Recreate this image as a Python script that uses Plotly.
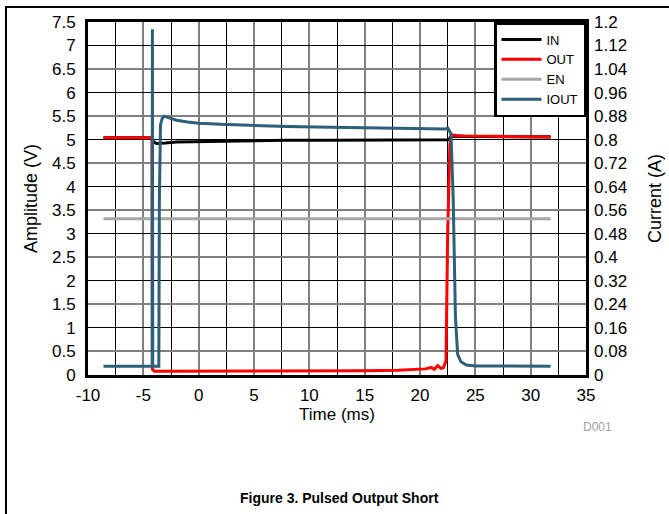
import plotly.graph_objects as go

# ---------------- data ----------------
x_ticks = [-10, -5, 0, 5, 10, 15, 20, 25, 30, 35]
x_minor = [-7.5, -2.5, 2.5, 7.5, 12.5, 17.5, 22.5, 27.5, 32.5]
y_ticks = [0, 0.5, 1, 1.5, 2, 2.5, 3, 3.5, 4, 4.5, 5, 5.5, 6, 6.5, 7, 7.5]
y_tick_text = ["0", "0.5", "1", "1.5", "2", "2.5", "3", "3.5", "4", "4.5", "5",
               "5.5", "6", "6.5", "7", "7.5"]
y_int = [0, 1, 2, 3, 4, 5, 6, 7]
y_half = [0.5, 1.5, 2.5, 3.5, 4.5, 5.5, 6.5, 7.5]
i_ticks = [0, 0.08, 0.16, 0.24, 0.32, 0.4, 0.48, 0.56, 0.64, 0.72, 0.8, 0.88,
           0.96, 1.04, 1.12, 1.2]
i_tick_text = ["0", "0.08", "0.16", "0.24", "0.32", "0.4", "0.48", "0.56", "0.64",
               "0.72", "0.8", "0.88", "0.96", "1.04", "1.12", "1.2"]

in_t = [-8.6, -4.3, -4.2, -4.0, -3.8, -3.5, -3.0, -2.0, 0, 2, 5, 8, 12, 16, 20,
        22.4, 22.6, 22.8, 23.0, 25, 31.8]
in_v = [5.04, 5.04, 5.0, 4.94, 4.92, 4.92, 4.93, 4.95, 4.96, 4.97, 4.98, 4.985,
        4.99, 4.99, 4.99, 4.99, 5.0, 5.07, 5.07, 5.07, 5.06]

out_t = [-8.6, -5, -4.22, -4.2, -4.17, -4.0, -3.0, 0, 5, 10, 15, 18, 19, 20, 20.5,
         21, 21.3, 21.6, 21.9, 22.1, 22.35, 22.5, 22.7, 22.85, 23.0, 23.3, 24, 27, 31.8]
out_v = [5.04, 5.04, 5.04, 2.5, 0.12, 0.08, 0.08, 0.08, 0.08, 0.08, 0.09, 0.1,
         0.11, 0.12, 0.13, 0.16, 0.12, 0.2, 0.14, 0.15, 0.3, 3.0, 4.9, 5.08, 5.1,
         5.09, 5.08, 5.07, 5.05]

en_t = [-8.6, 0, 10, 20, 31.8]
en_v = [3.32, 3.32, 3.32, 3.32, 3.32]

iout_t = [-8.6, -4.4, -4.2, -4.18, -4.15, -4.05, -3.6, -3.55, -3.45, -3.3, -3.1,
          -2.8, -2.0, -1.0, 0, 2, 5, 8, 12, 16, 20, 22.0, 22.3, 22.5, 22.8, 23.0,
          23.2, 23.4, 23.7, 24.2, 25, 31.8]
iout_v = [0.03, 0.03, 0.03, 1.175, 0.032, 0.03, 0.03, 0.6, 0.85, 0.872, 0.88,
          0.876, 0.866, 0.86, 0.856, 0.852, 0.848, 0.845, 0.842, 0.84, 0.838,
          0.837, 0.836, 0.84, 0.82, 0.6, 0.2, 0.07, 0.045, 0.034, 0.031, 0.03]

# ---------------- figure ----------------
FONT = "Liberation Sans, Arial, sans-serif"
fig = go.Figure()
fig.add_trace(go.Scatter(x=in_t, y=in_v, name="IN", mode="lines",
                         line=dict(color="#000000", width=3)))
fig.add_trace(go.Scatter(x=out_t, y=out_v, name="OUT", mode="lines",
                         line=dict(color="#ff0000", width=3)))
fig.add_trace(go.Scatter(x=en_t, y=en_v, name="EN", mode="lines",
                         line=dict(color="#a6a6a6", width=3)))
fig.add_trace(go.Scatter(x=iout_t, y=iout_v, name="IOUT", mode="lines",
                         line=dict(color="#2c5f78", width=3), yaxis="y2"))
# grid-only helper axis
fig.add_trace(go.Scatter(x=[None], y=[None], yaxis="y3", showlegend=False,
                         hoverinfo="skip"))

fig.update_layout(
    width=669, height=514,
    margin=dict(l=88, r=83, t=22, b=139, autoexpand=False),
    paper_bgcolor="white", plot_bgcolor="white",
    font=dict(family=FONT, size=17, color="black"),
    showlegend=True,
    legend=dict(x=1, xanchor="right", y=1, yanchor="top",
                bgcolor="white", bordercolor="black", borderwidth=2.5,
                font=dict(size=13), tracegroupgap=0, itemwidth=40),
    xaxis=dict(range=[-10, 35], tickmode="array", tickvals=x_ticks,
               ticktext=[str(v) for v in x_ticks], ticks="", ticklabelstandoff=3,
               showline=True, linecolor="black", linewidth=3, mirror=True,
               showgrid=True, gridcolor="#808080", gridwidth=1.5, zeroline=False,
               automargin=False,
               minor=dict(tickmode="array", tickvals=x_minor, showgrid=True,
                          gridcolor="#000000", gridwidth=1, ticks=""),
               title=dict(text="Time (ms)", standoff=2, font=dict(size=17))),
    yaxis=dict(range=[0, 7.5], tickmode="array", tickvals=y_ticks,
               ticktext=y_tick_text, ticks="", ticklabelstandoff=6,
               showline=True, linecolor="black", linewidth=3, mirror=True,
               showgrid=False, zeroline=False, automargin=False,
               title=dict(text="Amplitude (V)", standoff=10, font=dict(size=18))),
    yaxis2=dict(range=[0, 1.2], overlaying="y", side="right", tickmode="array",
                tickvals=i_ticks, ticktext=i_tick_text, ticks="",
                ticklabelstandoff=7, showgrid=False, zeroline=False,
                showline=False, automargin=False,
                title=dict(text="Current (A)", standoff=22, font=dict(size=18))),
    yaxis3=dict(range=[0, 7.5], overlaying="y", tickmode="array", tickvals=y_int,
                showticklabels=False, ticks="", showgrid=True, automargin=False,
                gridcolor="#000000", gridwidth=1, zeroline=False, showline=False,
                minor=dict(tickmode="array", tickvals=y_half, showgrid=True,
                           gridcolor="#808080", gridwidth=1.5, ticks="")),
)

# document frame lines (top and left edges of the page box)
fig.add_shape(type="line", xref="paper", yref="paper", x0=-0.1647, x1=1.2,
              y0=1.0425, y1=1.0425, line=dict(color="black", width=2), layer="above")
fig.add_shape(type="line", xref="paper", yref="paper", x0=-0.1647, x1=-0.1647,
              y0=1.0425, y1=-0.45, line=dict(color="black", width=2), layer="above")

fig.add_annotation(text="D001", xref="paper", yref="paper", x=1.024, y=-0.147,
                   xanchor="center", yanchor="middle",
                   showarrow=False, font=dict(size=12, color="#a0a0a0"))
fig.add_annotation(text="<b>Figure 3. Pulsed Output Short</b>", xref="paper",
                   yref="paper", x=0.506, y=-0.348, xanchor="center",
                   yanchor="middle", showarrow=False,
                   font=dict(size=14, color="black", family=FONT))

post = (
    "document.body.style.margin='0';document.body.style.padding='0';"
    "var fr=document.createElement('div');"
    "fr.style.cssText='position:absolute;left:5px;top:6px;width:664px;height:2px;"
    "background:#000;pointer-events:none;';"
    "document.body.appendChild(fr);"
)
fig.write_html("out.html", config={"displayModeBar": False}, post_script=post)
